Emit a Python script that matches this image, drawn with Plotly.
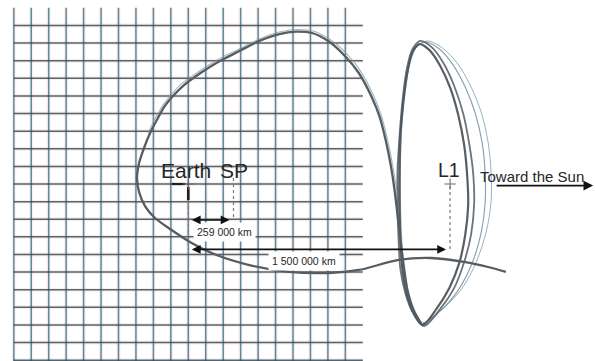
import plotly.graph_objects as go

# Coordinates are in thousands of km, Earth at the origin, +x toward the Sun.
SP_DIST = 259      # distance Earth -> SP
L1_DIST = 1500     # distance Earth -> L1

# background grid, one line every 100 000 km
grid_lines = list(range(-1000, 1000, 100))
GRID_EDGE = 1000

# transfer trajectory: tail beyond L1, lower branch, big loop, descent into the halo
transfer_x = [1820, 1718, 1587, 1393, 1205, 977, 806, 578, 350, 162, 9, -105, -191,
              -248, -282, -294, -282, -254, -219, -174, -134, -88, -31, 37, 123, 208,
              293, 407, 521, 618, 709, 806, 903, 977, 1051, 1097, 1131, 1160, 1182,
              1199, 1216, 1234, 1256, 1291, 1336]
transfer_y = [-499, -471, -443, -420, -431, -488, -505, -499, -460, -403, -329, -255,
              -193, -125, -45, 34, 119, 204, 289, 375, 443, 499, 556, 607, 664, 712,
              755, 812, 851, 865, 857, 809, 721, 630, 494, 380, 250, 108, -34, -176,
              -318, -460, -602, -715, -794]

# fainter second pass running just outside the upper part of the loop
echo_x = [-231, -185, -145, -100, -43, 31, 117, 202, 293, 407, 521, 618, 715, 812,
          915, 989, 1063, 1108, 1142, 1171, 1194]
echo_y = [289, 380, 448, 505, 565, 619, 675, 724, 766, 823, 863, 877, 868, 820,
          732, 638, 499, 383, 250, 108, -34]

# successive revolutions of the halo orbit around L1
halo_a_x = [1342, 1422, 1496, 1553, 1587, 1604, 1598, 1581, 1547, 1501, 1444, 1382, 1325,
            1285, 1256, 1234, 1216, 1211, 1211, 1216, 1228, 1251, 1285, 1342]
halo_a_y = [-800, -709, -590, -448, -289, -119, 51, 221, 392, 545, 670, 760, 794,
            749, 636, 477, 278, 80, -119, -318, -488, -619, -721, -800]
halo_b_x = [1348, 1444, 1524, 1581, 1621, 1638, 1633, 1610, 1576, 1524, 1462, 1393, 1330,
            1285, 1251, 1228, 1211, 1199, 1199, 1205, 1216, 1245, 1285, 1348]
halo_b_y = [-806, -709, -590, -443, -284, -114, 57, 227, 397, 556, 687, 778, 812,
            766, 647, 477, 278, 80, -119, -318, -488, -624, -726, -806]
halo_c_x = [1336, 1450, 1547, 1627, 1678, 1701, 1701, 1684, 1644, 1587, 1518, 1439, 1359,
            1302, 1262, 1234, 1216, 1205, 1205, 1211, 1222, 1245, 1279, 1336]
halo_c_y = [-794, -715, -602, -448, -278, -108, 62, 233, 403, 550, 675, 766, 806,
            772, 670, 505, 306, 108, -91, -289, -460, -602, -715, -794]
halo_d_x = [1330, 1462, 1570, 1650, 1707, 1735, 1735, 1718, 1678, 1615, 1541, 1456, 1370,
            1308, 1268, 1239, 1222, 1216, 1216, 1222, 1234, 1256, 1285, 1330]
halo_d_y = [-789, -704, -590, -443, -272, -102, 68, 238, 409, 562, 687, 772, 812,
            778, 675, 505, 306, 108, -91, -289, -460, -602, -709, -789]

FONT = "Liberation Sans, Arial, sans-serif"
INK = "#262626"

fig = go.Figure()


def segments(coords, horizontal):
    xs, ys = [], []
    for c in coords:
        if horizontal:
            xs += [-GRID_EDGE, GRID_EDGE, None]
            ys += [c, c, None]
        else:
            xs += [c, c, None]
            ys += [-GRID_EDGE - 100, GRID_EDGE, None]
    return xs, ys


vx, vy = segments(grid_lines, horizontal=False)
hx, hy = segments(grid_lines, horizontal=True)

# soft reddish fringe around every grid line
for xs, ys in ((vx, vy), (hx, hy)):
    fig.add_trace(go.Scatter(x=xs, y=ys, mode="lines", hoverinfo="skip",
                             line=dict(color="rgba(235,160,150,0.18)", width=4)))
fig.add_trace(go.Scatter(x=vx, y=vy, mode="lines", hoverinfo="skip",
                         line=dict(color="rgba(62,120,142,0.85)", width=1.5)))
fig.add_trace(go.Scatter(x=hx, y=hy, mode="lines", hoverinfo="skip",
                         line=dict(color="rgba(52,78,90,0.85)", width=1.5)))

# halo revolutions, light outer ones first
for hxs, hys, col, w in ((halo_d_x, halo_d_y, "rgba(140,168,182,0.9)", 1.0),
                         (halo_c_x, halo_c_y, "rgba(118,148,164,0.9)", 1.1),
                         (halo_b_x, halo_b_y, "rgba(92,100,106,0.9)", 1.8),
                         (halo_a_x, halo_a_y, "rgba(78,85,92,0.95)", 2.2)):
    fig.add_trace(go.Scatter(x=hxs, y=hys, mode="lines", hoverinfo="skip",
                             line=dict(color=col, width=w, shape="spline", smoothing=0.9)))

fig.add_trace(go.Scatter(x=echo_x, y=echo_y, mode="lines", hoverinfo="skip",
                         line=dict(color="rgba(120,152,168,0.7)", width=1.1,
                                   shape="spline", smoothing=0.8)))
fig.add_trace(go.Scatter(x=transfer_x, y=transfer_y, mode="lines", hoverinfo="skip",
                         line=dict(color="#555c62", width=2.3, shape="spline", smoothing=0.8)))

# dotted reference verticals down to the distance arrows
for x0, y0, y1 in ((0, -91, -371), (SP_DIST, 34, -204), (L1_DIST, -11, -371)):
    fig.add_trace(go.Scatter(x=[x0, x0], y=[y0, y1], mode="lines", hoverinfo="skip",
                             line=dict(color="#7a7a7a", width=1.2, dash="dot")))

# Earth marker
fig.add_trace(go.Scatter(x=[-95, -19], y=[0, 0], mode="lines", hoverinfo="skip",
                         line=dict(color="#1f1f1f", width=2.2)))
fig.add_trace(go.Scatter(x=[0, 0], y=[-17, -91], mode="lines", hoverinfo="skip",
                         line=dict(color="#1f1f1f", width=2.6)))
# crosshairs at Earth and L1
fig.add_trace(go.Scatter(x=[0, L1_DIST], y=[0, 0], mode="markers", hoverinfo="skip",
                         marker=dict(symbol="cross-thin", size=8,
                                     line=dict(color="#666666", width=1))))

annotations = [
    dict(x=-13, y=77, text="Earth", font=dict(size=21, color=INK)),
    dict(x=SP_DIST + 3, y=77, text="SP", font=dict(size=21, color=INK)),
    dict(x=L1_DIST - 6, y=77, text="L1", font=dict(size=19.5, color=INK)),
    dict(x=1967, y=45, text="Toward the Sun", font=dict(size=15, color=INK)),
    dict(x=206, y=-270, text="259 000 km", font=dict(size=10.5, color=INK),
         bgcolor="white", borderpad=3),
    dict(x=661, y=-435, text="1 500 000 km", font=dict(size=10.5, color=INK),
         bgcolor="white", borderpad=3),
    # distance arrows
    dict(x=SP_DIST, y=-204, ax=0, ay=-204, text="", showarrow=True, arrowside="end+start",
         arrowhead=2, arrowsize=1.1, arrowwidth=1.6, arrowcolor="#111111",
         standoff=4, startstandoff=2),
    dict(x=L1_DIST, y=-371, ax=0, ay=-371, text="", showarrow=True, arrowside="end+start",
         arrowhead=2, arrowsize=1.1, arrowwidth=1.6, arrowcolor="#111111",
         standoff=4, startstandoff=2),
    dict(x=2320, y=-9, ax=1758, ay=-9, text="", showarrow=True,
         arrowhead=2, arrowsize=1.2, arrowwidth=1.6, arrowcolor="#111111"),
]
for a in annotations:
    a.setdefault("showarrow", False)
    a.update(xref="x", yref="y")
    if a.get("showarrow"):
        a.update(axref="x", ayref="y")
    a.setdefault("xanchor", "center")
    a.setdefault("yanchor", "middle")

fig.update_layout(
    width=595, height=361,
    margin=dict(l=0, r=0, t=0, b=0, pad=0),
    paper_bgcolor="white", plot_bgcolor="white",
    showlegend=False,
    font=dict(family=FONT),
    annotations=annotations,
    xaxis=dict(range=[-1079.1, 2330.7], visible=False, fixedrange=True),
    yaxis=dict(range=[-1004.5, 1044.3], visible=False, fixedrange=True),
)

fig.write_html("out.html", config={"displayModeBar": False})
